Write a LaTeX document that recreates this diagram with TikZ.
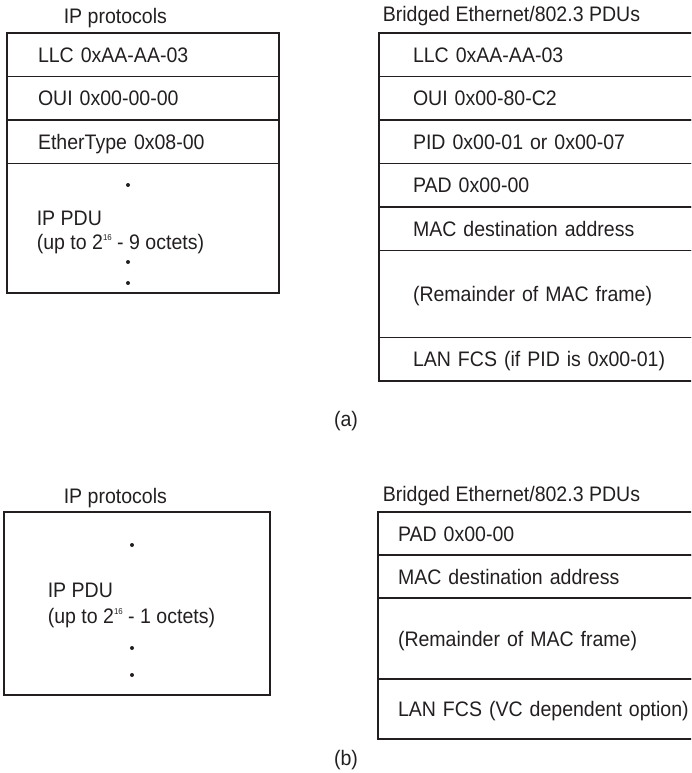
\documentclass[tikz,border=0pt]{standalone}
\usepackage{fontspec}
\setmainfont[FakeStretch=0.93]{Liberation Sans}
\definecolor{ink}{HTML}{231F20}
\newcommand{\sixteen}{\raisebox{8.5pt}{\fontsize{8.5}{8.5}\selectfont 16}}
\begin{document}
\begin{tikzpicture}[x=1pt, y=-1pt, color=ink, line width=1.6pt,
  font=\fontsize{21}{25}\selectfont,
  cell/.style={draw, anchor=north west, align=left, outer sep=0pt, inner ysep=0pt, text height=15pt, text depth=0pt},
  cellL/.style={cell, inner xsep=31pt, text width=210pt},
  cellR/.style={cell, inner xsep=34pt, text width=262pt},
  cellB/.style={cell, inner xsep=20pt, text width=300pt},
  box/.style={draw, anchor=north west, outer sep=0pt, inner sep=0pt},
  txt/.style={anchor=base west, inner sep=0pt},
  bullet/.style={fill, circle, inner sep=0pt, minimum size=4pt}]
\useasboundingbox (0,0) rectangle (691,773);
\clip (0,0) rectangle (691,773);

% (a)
\node (iphead) at (63,24) [txt] {IP protocols};
\node (brhead) at (382,22) [txt] {Bridged Ethernet/802.3 PDUs};

\node (llc) at (7,33) [cellL, minimum height=43.5pt] {LLC 0xAA-AA-03};
\node (oui) at (7,76.5) [cellL, minimum height=43.5pt] {OUI 0x00-00-00};
\node (etype) at (7,120) [cellL, minimum height=43.5pt] {EtherType 0x08-00};
\node (pdu) at (7,163.5) [box, minimum width=272pt, minimum height=129.5pt] {};
\node (d1) at (128,185) [bullet] {};
\node (pdutxt) at (36,225) [txt] {IP PDU};
\node (pdusize) at (36,249) [txt] {(up to 2\sixteen{} - 9 octets)};
\node (d2) at (128,262) [bullet] {};
\node (d3) at (128,283) [bullet] {};

\node (bllc) at (379,33) [cellR, minimum height=43.5pt] {LLC 0xAA-AA-03};
\node (boui) at (379,76.5) [cellR, minimum height=43.5pt] {OUI 0x00-80-C2};
\node (bpid) at (379,120) [cellR, minimum height=43.5pt] {PID 0x00-01 or 0x00-07};
\node (bpad) at (379,163.5) [cellR, minimum height=43.5pt] {PAD 0x00-00};
\node (bmac) at (379,207) [cellR, minimum height=43.5pt] {MAC destination address};
\node (brest) at (379,250.5) [cellR, minimum height=87pt] {(Remainder of MAC frame)};
\node (bfcs) at (379,337.5) [cellR, minimum height=43.5pt] {LAN FCS (if PID is 0x00-01)};

\node (capa) at (346,421) {(a)};

% (b)
\node (iphead2) at (63,503) [txt] {IP protocols};
\node (brhead2) at (382,501) [txt] {Bridged Ethernet/802.3 PDUs};

\node (pdu2) at (4,512) [box, minimum width=266pt, minimum height=183pt] {};
\node (e1) at (132,545) [bullet] {};
\node (pdutxt2) at (47,597) [txt] {IP PDU};
\node (pdusize2) at (47,623) [txt] {(up to 2\sixteen{} - 1 octets)};
\node (e2) at (132,648) [bullet] {};
\node (e3) at (132,675) [bullet] {};

\node (cpad) at (378,512) [cellB, minimum height=43pt] {PAD 0x00-00};
\node (cmac) at (378,555) [cellB, minimum height=43pt] {MAC destination address};
\node (crest) at (378,598) [cellB, minimum height=81pt] {(Remainder of MAC frame)};
\node (cfcs) at (378,679) [cellB, minimum height=60pt] {LAN FCS (VC dependent option)};

\node (capb) at (346,760) {(b)};
\end{tikzpicture}
\end{document}
